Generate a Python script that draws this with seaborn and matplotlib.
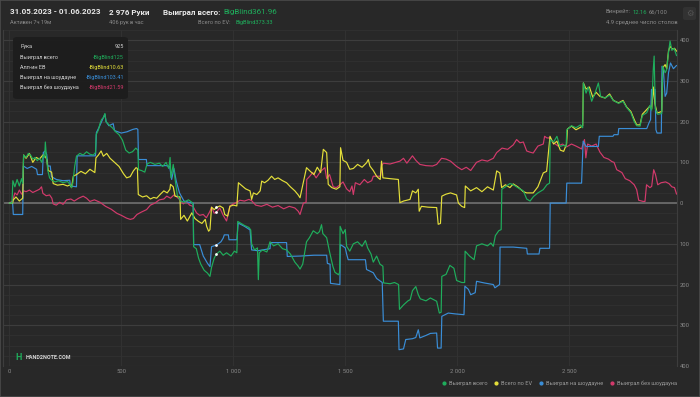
import numpy as np
import pandas as pd
import matplotlib
matplotlib.use('Agg')
import matplotlib.pyplot as plt
import seaborn as sns
from matplotlib.lines import Line2D
from matplotlib.patches import FancyBboxPatch, Rectangle
from matplotlib.ticker import FuncFormatter, MultipleLocator

sns.set_style('dark')
plt.rcParams['font.family'] = ['Roboto', 'DejaVu Sans']

# --- data (hand, big blinds) ---
won_total = [(0,0),(12,0),(16,55),(25,40),(35,58),(45,42),(55,60),(60,48),(64,118),(75,112),(85,122),(95,118),(105,108),(115,112),(125,104),(135,110),(145,100),(152,118),(158,112),(161,150),(165,120),(172,80),(180,62),(190,56),(205,52),(220,55),(240,50),(260,53),(272,45),(278,38),(284,50),(292,90),(300,115),(315,122),(330,118),(345,126),(360,120),(375,118),(385,124),(388,168),(398,180),(405,195),(412,205),(420,210),(427,220),(432,200),(445,192),(460,185),(475,175),(490,168),(505,155),(520,130),(535,123),(550,126),(565,135),(574,130),(577,82),(590,80),(605,76),(615,96),(630,100),(650,95),(670,98),(685,90),(700,100),(712,85),(718,112),(722,62),(732,95),(740,60),(750,20),(765,5),(780,2),(800,8),(815,2),(821,-5),(823,-107),(835,-112),(845,-135),(855,-150),(870,-165),(885,-172),(896,-180),(903,-158),(915,-135),(925,-125),(940,-118),(955,-128),(970,-122),(990,-130),(1005,-118),(1016,-122),(1020,-45),(1035,-50),(1050,-55),(1070,-60),(1078,-66),(1082,-100),(1095,-115),(1108,-110),(1112,-188),(1116,-122),(1130,-115),(1150,-120),(1164,-95),(1180,-105),(1200,-100),(1220,-112),(1238,-115),(1255,-125),(1275,-145),(1290,-155),(1298,-162),(1310,-150),(1327,-95),(1340,-85),(1357,-68),(1375,-75),(1385,-70),(1394,-53),(1400,-75),(1417,-85),(1430,-120),(1445,-156),(1454,-170),(1470,-176),(1475,-170),(1477,-57),(1490,-75),(1500,-65),(1506,-106),(1520,-118),(1536,-100),(1555,-95),(1575,-106),(1590,-92),(1600,-110),(1615,-125),(1625,-145),(1640,-130),(1655,-150),(1668,-155),(1671,-196),(1700,-198),(1720,-195),(1738,-200),(1742,-261),(1760,-250),(1780,-240),(1790,-237),(1800,-215),(1815,-205),(1826,-225),(1835,-235),(1860,-240),(1880,-233),(1908,-241),(1920,-270),(1928,-268),(1931,-180),(1950,-175),(1967,-153),(1985,-160),(1997,-190),(2020,-195),(2033,-195),(2035,-118),(2055,-130),(2075,-139),(2086,-105),(2110,-100),(2135,-105),(2150,-98),(2161,-106),(2170,-80),(2185,-68),(2196,-65),(2199,34),(2215,40),(2235,48),(2250,45),(2270,38),(2295,30),(2310,10),(2325,5),(2340,16),(2360,25),(2384,33),(2400,45),(2412,49),(2415,156),(2430,150),(2445,164),(2458,139),(2475,142),(2486,139),(2489,180),(2510,190),(2530,185),(2550,192),(2560,185),(2563,295),(2575,270),(2585,285),(2600,250),(2615,270),(2630,295),(2640,262),(2660,258),(2680,265),(2697,252),(2720,245),(2740,250),(2756,235),(2775,222),(2790,200),(2801,190),(2816,189),(2826,215),(2846,222),(2860,240),(2868,228),(2875,328),(2879,361),(2884,232),(2895,218),(2913,220),(2917,336),(2928,320),(2935,328),(2943,369),(2950,398),(2958,375),(2968,380),(2979,362)]

ev_total = [(0,0),(15,0),(18,8),(30,15),(45,5),(60,12),(64,118),(75,110),(90,122),(105,100),(120,112),(135,108),(150,118),(160,115),(167,108),(174,80),(189,76),(196,48),(215,44),(240,46),(260,42),(271,45),(278,38),(286,66),(300,70),(320,78),(340,72),(360,83),(382,75),(387,111),(398,118),(410,128),(420,115),(435,122),(450,110),(470,100),(490,90),(510,72),(524,62),(540,65),(554,79),(566,87),(572,85),(576,21),(595,15),(613,18),(630,10),(645,14),(658,12),(675,22),(690,30),(705,25),(717,34),(720,46),(732,40),(740,17),(762,15),(765,-40),(780,-30),(795,-44),(815,-24),(829,-38),(845,-45),(860,-50),(875,-40),(881,-57),(890,-69),(896,-65),(903,-10),(915,-16),(925,-11),(940,-7),(955,-12),(962,-28),(975,-32),(985,-8),(1000,-5),(1016,-7),(1023,50),(1040,42),(1055,35),(1075,30),(1082,9),(1090,25),(1105,21),(1120,30),(1127,54),(1140,50),(1155,56),(1171,66),(1185,58),(1200,62),(1220,55),(1238,50),(1255,40),(1275,30),(1290,20),(1298,13),(1327,87),(1340,80),(1360,70),(1375,88),(1390,75),(1402,132),(1417,124),(1424,46),(1440,38),(1460,34),(1476,40),(1479,136),(1490,105),(1506,100),(1520,83),(1536,85),(1555,95),(1575,88),(1595,99),(1603,107),(1610,91),(1625,80),(1640,66),(1647,62),(1656,58),(1662,103),(1668,62),(1700,60),(1737,58),(1744,1),(1760,5),(1789,9),(1800,30),(1815,25),(1826,34),(1830,-20),(1840,-8),(1870,-10),(1908,-11),(1915,-52),(1925,-50),(1931,17),(1950,22),(1970,25),(1997,20),(2005,0),(2020,-8),(2033,-11),(2036,42),(2060,30),(2086,38),(2110,28),(2135,40),(2161,32),(2176,79),(2190,74),(2198,38),(2215,45),(2235,38),(2250,47),(2270,40),(2295,28),(2310,25),(2339,25),(2360,40),(2384,74),(2399,78),(2414,164),(2430,145),(2445,152),(2460,130),(2475,127),(2488,145),(2492,182),(2510,189),(2530,180),(2550,186),(2560,190),(2563,295),(2575,280),(2590,285),(2605,260),(2620,272),(2637,262),(2660,258),(2680,268),(2697,252),(2720,246),(2740,252),(2756,236),(2775,225),(2790,205),(2801,192),(2816,192),(2826,218),(2846,230),(2860,238),(2868,232),(2876,285),(2882,245),(2892,221),(2913,225),(2917,332),(2928,340),(2935,330),(2943,373),(2950,385),(2960,378),(2970,380),(2979,373)]

won_showdown = [(0,0),(15,0),(18,-28),(60,-28),(63,91),(80,85),(100,90),(122,83),(126,70),(148,70),(152,124),(160,128),(167,120),(172,91),(183,91),(188,65),(210,58),(240,55),(270,56),(273,42),(300,40),(303,116),(385,116),(389,173),(400,185),(412,200),(427,218),(432,200),(445,190),(464,195),(470,178),(500,172),(525,175),(552,181),(568,183),(574,181),(577,107),(612,107),(615,92),(700,92),(716,90),(720,75),(725,58),(735,85),(745,55),(760,25),(780,5),(800,2),(821,0),(823,-102),(850,-102),(866,-130),(885,-148),(896,-156),(903,-107),(925,-103),(945,-95),(955,-86),(960,-78),(978,-78),(981,-90),(1016,-90),(1022,-49),(1050,-57),(1075,-66),(1082,-115),(1110,-117),(1130,-115),(1164,-112),(1166,-97),(1238,-97),(1241,-131),(1300,-130),(1360,-128),(1417,-128),(1420,-148),(1432,-150),(1434,-197),(1476,-200),(1478,-102),(1490,-106),(1500,-110),(1506,-125),(1513,-139),(1590,-139),(1595,-163),(1625,-171),(1640,-185),(1665,-195),(1670,-290),(1737,-290),(1740,-360),(1760,-358),(1770,-335),(1800,-333),(1815,-330),(1826,-311),(1833,-331),(1860,-325),(1880,-320),(1908,-319),(1912,-356),(1928,-356),(1931,-278),(1960,-270),(1990,-272),(2030,-274),(2034,-204),(2050,-212),(2060,-225),(2080,-220),(2086,-192),(2120,-196),(2161,-200),(2168,-208),(2176,-205),(2189,-200),(2191,-108),(2250,-108),(2310,-111),(2313,-125),(2365,-125),(2369,-111),(2412,-111),(2415,0),(2486,0),(2489,49),(2555,49),(2562,152),(2575,139),(2630,139),(2634,164),(2695,164),(2700,168),(2718,168),(2721,183),(2846,183),(2856,197),(2863,205),(2867,279),(2883,279),(2887,180),(2892,172),(2911,172),(2914,336),(2920,328),(2928,262),(2935,270),(2943,320),(2952,344),(2965,330),(2979,338)]

won_no_showdown = [(0,0),(15,5),(25,25),(35,20),(45,32),(55,22),(65,30),(75,28),(90,32),(105,26),(120,30),(135,34),(144,40),(150,24),(165,18),(180,20),(190,12),(196,-2),(210,-5),(225,2),(240,-3),(256,8),(275,10),(290,5),(310,12),(330,17),(345,12),(360,4),(380,8),(405,2),(430,-8),(455,-15),(480,-25),(500,-30),(524,-37),(540,-40),(554,-38),(570,-28),(590,-22),(613,-16),(630,-5),(650,0),(670,8),(690,10),(703,17),(720,12),(735,20),(750,14),(762,8),(777,-2),(790,5),(805,-5),(820,-8),(836,-24),(850,-30),(866,-28),(880,-36),(896,-20),(903,-10),(915,-25),(925,-22),(940,-12),(955,-30),(970,-44),(985,-7),(1000,-2),(1016,2),(1030,7),(1050,5),(1070,9),(1082,6),(1100,-5),(1125,-8),(1150,-3),(1175,-10),(1200,-6),(1225,-14),(1250,-8),(1275,-12),(1290,-20),(1298,-28),(1313,0),(1325,2),(1328,58),(1340,65),(1355,75),(1370,62),(1390,78),(1409,87),(1417,60),(1430,70),(1446,40),(1460,38),(1476,45),(1490,52),(1506,35),(1520,28),(1530,42),(1536,21),(1545,50),(1565,45),(1585,58),(1600,50),(1618,55),(1625,66),(1658,66),(1662,91),(1670,98),(1700,96),(1725,100),(1744,103),(1760,110),(1775,98),(1800,116),(1815,105),(1833,95),(1860,92),(1890,91),(1908,95),(1930,110),(1950,108),(1970,103),(1997,90),(2020,82),(2040,88),(2060,80),(2086,100),(2110,106),(2135,103),(2161,110),(2176,124),(2200,135),(2225,132),(2250,143),(2265,156),(2280,148),(2295,150),(2310,128),(2325,125),(2339,123),(2360,140),(2384,145),(2390,164),(2400,160),(2414,160),(2430,148),(2450,140),(2470,145),(2488,138),(2510,145),(2530,140),(2555,133),(2568,156),(2574,111),(2582,145),(2600,140),(2620,145),(2637,125),(2655,112),(2675,108),(2690,102),(2700,100),(2712,82),(2735,75),(2750,60),(2770,55),(2790,45),(2801,33),(2810,7),(2830,4),(2838,4),(2845,45),(2860,38),(2868,41),(2877,82),(2885,70),(2895,45),(2910,50),(2930,52),(2945,48),(2958,40),(2970,38),(2979,22)]

series_names = ['Выиграл всего', 'Всего по EV', 'Выиграл на шоудауне', 'Выиграл без шоудауна']
series_colors = ['#1fae5c', '#e4df3a', '#3a8ed8', '#d33a6c']

tooltip_hand = 925
tooltip_labels = ['Выиграл всего', 'Алл-ин EВ', 'Выиграл на шоудауне', 'Выиграл без шоудауна']
tooltip_vals = [-125, -10.63, -103.41, -21.59]
tooltip_text = ['-BigBlind125', '-BigBlind10.63', '-BigBlind103.41', '-BigBlind21.59']

y_ticks = [-400, -300, -200, -100, 0, 100, 200, 300, 400]
x_ticks = [0, 500, 1000, 1500, 2000, 2500]
x_tick_labels = ['0', '500', '1 000', '1 500', '2 000', '2 500']

BG = '#282828'
W, H = 700, 397

def px(x, y):
    return x / W, 1 - y / H

frames = []
for name, pts in zip(series_names, [won_total, ev_total, won_showdown, won_no_showdown]):
    h, v = zip(*pts)
    frames.append(pd.DataFrame({'hand': h, 'bb': v, 'series': name}))
df = pd.concat(frames, ignore_index=True)
palette = dict(zip(series_names, series_colors))

fig = plt.figure(figsize=(W / 100, H / 100), dpi=100, facecolor=BG)
ax = fig.add_axes([3 / W, 1 - 366 / H, 674 / W, 336 / H])
ax.set_facecolor(BG)

# red at the bottom, green on top
draw_order = series_names[::-1]
sns.lineplot(data=df, x='hand', y='bb', hue='series', hue_order=draw_order,
             palette=palette, estimator=None, sort=False, lw=0.85,
             legend=False, ax=ax, zorder=3)

ax.scatter([tooltip_hand] * 4, tooltip_vals, s=4, color='white', zorder=5, linewidths=0)

ax.set_xlim(-28, 2981)
ax.set_ylim(-400, 425)
ax.axhline(0, color='#6a6a6a', lw=1.3, zorder=2)

ax.set_yticks(y_ticks)
ax.yaxis.set_minor_locator(MultipleLocator(25))
ax.yaxis.tick_right()
ax.yaxis.set_major_formatter(FuncFormatter(lambda v, p: f'{abs(int(v))}'))
ax.set_xticks(x_ticks)
ax.set_xticklabels(x_tick_labels)
ax.tick_params(axis='both', which='both', length=0, labelsize=4.2, colors='#8a8a8a')
ax.tick_params(axis='x', pad=2)
ax.tick_params(axis='y', pad=2)
ax.grid(which='major', axis='y', color='#3d3d3d', lw=0.8)
ax.grid(which='minor', axis='y', color='#313131', lw=0.6)
ax.grid(which='major', axis='x', color='#333333', lw=0.6)
ax.set_xlabel('')
ax.set_ylabel('')
for s in ['top', 'bottom']:
    ax.spines[s].set_visible(False)
for s in ['left', 'right']:
    ax.spines[s].set_color('#3d3d3d')
    ax.spines[s].set_linewidth(0.8)

# --- header ---
WHITE = '#e8e8e8'
GREY = '#8a8a8a'
GREEN = series_colors[0]
BIG, SMALL = 5.8, 4.1


def after(prev, text, color, size, gap=1.5, **kw):
    # place a text right after another one, same vertical centre
    return ax.annotate(text, xy=(1, 0.5), xycoords=prev, xytext=(gap, 0),
                       textcoords='offset points', va='center', ha='left',
                       color=color, fontsize=size, annotation_clip=False, **kw)


fig.text(*px(10, 12), '31.05.2023 - 01.06.2023', color=WHITE, fontsize=BIG,
         fontweight='bold', va='center')
fig.text(*px(10, 22.5), 'Активен 7ч 19м', color=GREY, fontsize=SMALL, va='center')
fig.text(*px(109, 12), '2 976 Руки', color=WHITE, fontsize=BIG, fontweight='bold', va='center')
fig.text(*px(109, 22.5), '406 рук в час', color=GREY, fontsize=SMALL, va='center')

t = fig.text(*px(163, 12), 'Выиграл всего:', color=WHITE, fontsize=BIG,
             fontweight='bold', va='center')
after(t, 'BigBlind361.96', GREEN, BIG, gap=1.8)
fig.text(*px(273, 22.5), 'BigBlind373.33', color=GREEN, fontsize=SMALL, va='center', ha='right')
fig.text(*px(230, 22.5), 'Всего по EV:', color=GREY, fontsize=SMALL, va='center', ha='right')

t = fig.text(*px(606, 12), 'Винрейт:', color=GREY, fontsize=4.2, va='center')
t = after(t, '12.16', GREEN, 4.2, gap=1.2)
after(t, '66/100', GREY, 4.2, gap=1.0)
fig.text(*px(606, 22.5), '4.9 среднее число столов', color=GREY, fontsize=4.2, va='center')

gx, gy = px(683, 20)
fig.add_artist(FancyBboxPatch((gx, gy), 13 / W, 13 / H, boxstyle='round,pad=0,rounding_size=0.004',
                              transform=fig.transFigure, facecolor='#323232', edgecolor='none'))
fig.text(*px(689.5, 13.5), '⚙', color='#555555', fontsize=6, ha='center', va='center',
         family=['DejaVu Sans'])

# --- tooltip ---
bx, by = px(13, 99)
fig.add_artist(FancyBboxPatch((bx, by), 115 / W, 62 / H, boxstyle='round,pad=0,rounding_size=0.006',
                              transform=fig.transFigure, facecolor='#1d1d1d', edgecolor='none',
                              alpha=0.96, zorder=10))
rows_y = [46.7, 57.3, 67.7, 77.7, 87.3]
fig.text(*px(20.5, rows_y[0]), 'Рука', color='#d6d6d6', fontsize=4.0, va='center', zorder=11)
fig.text(*px(124, rows_y[0]), str(tooltip_hand), color='#d6d6d6', fontsize=4.0, va='center',
         ha='right', zorder=11)
for yy, lab, txt, c in zip(rows_y[1:], tooltip_labels, tooltip_text, series_colors):
    fig.text(*px(20.5, yy), lab, color='#d6d6d6', fontsize=4.0, va='center', zorder=11)
    fig.text(*px(124, yy), txt, color=c, fontsize=4.0, va='center', ha='right', zorder=11)

# --- logo ---
fig.text(*px(15, 357), 'H', color=GREEN, fontsize=6.5, fontweight='bold', va='center')
fig.text(*px(26, 357.5), 'HAND2NOTE.COM', color='#d8d8d8', fontsize=3.9, fontweight='bold',
         va='center')

# --- legend ---
handles = [Line2D([], [], marker='o', ls='', color=c, markersize=2.0) for c in series_colors]
fig.legend(handles, series_names, loc='center right', bbox_to_anchor=px(677, 383.5), ncol=4,
           frameon=False, fontsize=4.1, labelcolor='#9a9a9a', handlelength=0.5,
           handletextpad=0.6, columnspacing=1.3, borderaxespad=0, borderpad=0)

# window border
fig.add_artist(Rectangle((0, 0), 1, 1, transform=fig.transFigure, fill=False,
                         edgecolor='#4a4a4a', lw=1.2))

fig.savefig('out.png', dpi=100, facecolor=BG)
